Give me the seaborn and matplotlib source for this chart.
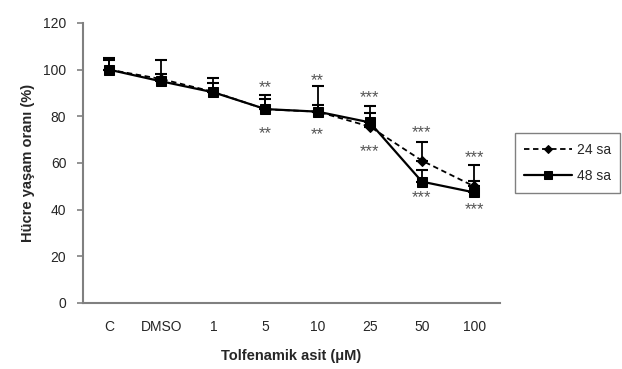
import matplotlib
matplotlib.use("Agg")
import matplotlib.pyplot as plt
import seaborn as sns
import pandas as pd
import numpy as np

categories = ["C", "DMSO", "1", "5", "10", "25", "50", "100"]
vals_24 = [100, 96, 90.5, 83, 82, 75.6, 61, 50]
err_24 = [4, 8, 6, 6, 11, 9, 8, 9]
vals_48 = [100, 95, 90.3, 83.1, 82, 77.4, 52, 47.4]
err_48 = [5, 3, 4, 4.3, 3, 4, 5, 5]
sig_above = ["", "", "", "**", "**", "***", "***", "***"]
sig_above_y = [0, 0, 0, 92.5, 95.5, 88, 73, 62.5]
sig_below = ["", "", "", "**", "**", "***", "***", "***"]
sig_below_y = [0, 0, 0, 72.5, 72, 65, 45.3, 40]

sns.set_style("ticks")
plt.rcParams["font.family"] = ["Liberation Sans", "DejaVu Sans"]

fig = plt.figure(figsize=(6.22, 3.69), dpi=100)
ax = fig.add_axes([0.1334, 0.1789, 0.6707, 0.7588])

x = np.arange(len(categories))
df = pd.DataFrame({
    "x": np.concatenate([x, x]),
    "y": vals_24 + vals_48,
    "series": ["24 sa"] * len(x) + ["48 sa"] * len(x),
})

ax.errorbar(x, vals_24, yerr=[np.zeros(len(x)), err_24], fmt="none",
            ecolor="black", elinewidth=1.3, capsize=4, capthick=1.5, zorder=2)
ax.errorbar(x, vals_48, yerr=[np.zeros(len(x)), err_48], fmt="none",
            ecolor="black", elinewidth=1.3, capsize=4, capthick=1.5, zorder=2)

sns.lineplot(data=df[df.series == "24 sa"], x="x", y="y", ax=ax, color="black",
             linestyle=(0, (3, 2)), linewidth=1.3, marker="D", markersize=5,
             markeredgecolor="black", label="24 sa", zorder=3)
sns.lineplot(data=df[df.series == "48 sa"], x="x", y="y", ax=ax, color="black",
             linestyle="-", linewidth=1.6, marker="s", markersize=7.5,
             markeredgecolor="black", label="48 sa", zorder=4)

for i in range(len(x)):
    if sig_above[i]:
        ax.text(x[i], sig_above_y[i], sig_above[i], ha="center", va="center",
                fontsize=12, color="#555555")
    if sig_below[i]:
        ax.text(x[i], sig_below_y[i], sig_below[i], ha="center", va="center",
                fontsize=12, color="#555555")

ax.set_xlim(-0.5, 7.5)
ax.set_ylim(0, 120)
ax.set_yticks(np.arange(0, 121, 20))
ax.set_xticks(x)
ax.set_xticklabels(categories)
ax.tick_params(axis="x", length=0, labelsize=10, pad=12)
ax.tick_params(axis="y", length=4, width=1.2, color="#808080", labelsize=10, pad=8)
ax.set_xlabel("Tolfenamik asit (μM)", fontsize=10.5, fontweight="bold", labelpad=11)
ax.set_ylabel("Hücre yaşam oranı (%)", fontsize=10.5, fontweight="bold", labelpad=6)
for s in ["top", "right"]:
    ax.spines[s].set_visible(False)
for s in ["left", "bottom"]:
    ax.spines[s].set_color("#808080")
    ax.spines[s].set_linewidth(1.5)

leg = ax.legend(loc="upper left", bbox_to_anchor=(1.035, 0.607), frameon=True,
                fancybox=False, edgecolor="#606060", fontsize=10, handlelength=3.4,
                borderpad=0.7, labelspacing=0.9, handletextpad=0.35,
                borderaxespad=0, markerscale=0.85)
leg.get_frame().set_linewidth(1.0)

fig.savefig("out.png", dpi=100)
